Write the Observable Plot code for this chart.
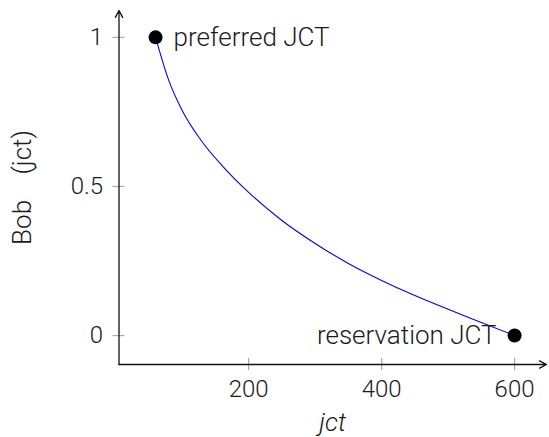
<!DOCTYPE html>
<html>
<head>
<meta charset="utf-8">
<script src="https://cdn.jsdelivr.net/npm/d3@7"></script>
<script src="https://cdn.jsdelivr.net/npm/@observablehq/plot@0.6"></script>
<style>
  html, body { margin: 0; padding: 0; background: #fff; }
  #chart svg { display: block; }
</style>
</head>
<body>
<div id="chart"></div>
<script>
// Curve samples (jct, utility)
const jct     = [60, 80, 100, 130, 160, 200, 250, 300, 350, 400, 450, 500, 550, 600];
const utility = [1.0, 0.855, 0.755, 0.650, 0.570, 0.480, 0.386, 0.309, 0.242, 0.185, 0.134, 0.088, 0.044, 0.0];

// Marked points
const pointNames = ["preferred JCT", "reservation JCT"];
const pointX = [60, 600];
const pointY = [1, 0];

// Axes
const xDomain = [5, 648];
const yDomain = [-0.097, 1.09];
const xTicks = [200, 400, 600];
const yTicks = [0, 0.5, 1];
const yTickLabels = ["0", "0.5", "1"];

const curve = jct.map((x, i) => ({x, y: utility[i]}));
const points = pointNames.map((name, i) => ({name, x: pointX[i], y: pointY[i]}));

const FONT = "Roboto, 'Open Sans', sans-serif";
const TXT = "#1a1a1a";

const plot = Plot.plot({
  width: 549,
  height: 437,
  marginLeft: 118.5,
  marginRight: 3,
  marginTop: 10,
  marginBottom: 73,
  style: {fontFamily: FONT, fontSize: "24px", fontWeight: 300, color: TXT, background: "#fff"},
  x: {domain: xDomain, axis: null},
  y: {domain: yDomain, axis: null},
  marks: [
    // tick marks crossing the axes
    Plot.ruleX(xTicks, {x: d => d, insetTop: 348, insetBottom: -6, stroke: "#aaa", strokeWidth: 1.2}),
    Plot.ruleY(yTicks, {y: d => d, insetLeft: -6, insetRight: 421.5, stroke: "#aaa", strokeWidth: 1.2}),
    // tick labels
    Plot.axisX({ticks: xTicks, tickSize: 0, tickPadding: 15, fontSize: 24, fill: TXT, label: null}),
    Plot.axisY({ticks: yTicks, tickSize: 0, tickPadding: 16, fontSize: 24, fill: TXT, label: null,
      tickFormat: d => yTickLabels[yTicks.indexOf(d)]}),
    // axis lines with arrows
    Plot.arrow([0], {x1: xDomain[0], y1: yDomain[0], x2: xDomain[1], y2: yDomain[0],
      stroke: "#111", strokeWidth: 1.3, headLength: 9, headAngle: 55}),
    Plot.arrow([0], {x1: xDomain[0], y1: yDomain[0], x2: xDomain[0], y2: yDomain[1],
      stroke: "#111", strokeWidth: 1.3, headLength: 9, headAngle: 55}),
    // curve
    Plot.line(curve, {x: "x", y: "y", curve: "monotone-x", stroke: "#0000ff", strokeWidth: 1.1}),
    // points
    Plot.dot(points, {x: "x", y: "y", r: 7, fill: "#000", stroke: "none"}),
    Plot.text(points.slice(0, 1), {x: "x", y: "y", text: "name", textAnchor: "start", dx: 18, fill: TXT, fontSize: 26}),
    Plot.text(points.slice(1), {x: "x", y: "y", text: "name", textAnchor: "end", dx: -18, fill: TXT, fontSize: 26}),
    // axis titles
    Plot.text(["jct"], {frameAnchor: "bottom", textAnchor: "middle", lineAnchor: "bottom", text: d => d, dy: 66,
      fontStyle: "italic", fill: TXT, fontSize: 26}),
    Plot.text(["Bob    (jct)"], {frameAnchor: "left", textAnchor: "middle", lineAnchor: "middle", text: d => d,
      rotate: -90, dx: -96, fill: TXT, fontSize: 26})
  ]
});
document.getElementById("chart").appendChild(plot);
</script>
</body>
</html>
